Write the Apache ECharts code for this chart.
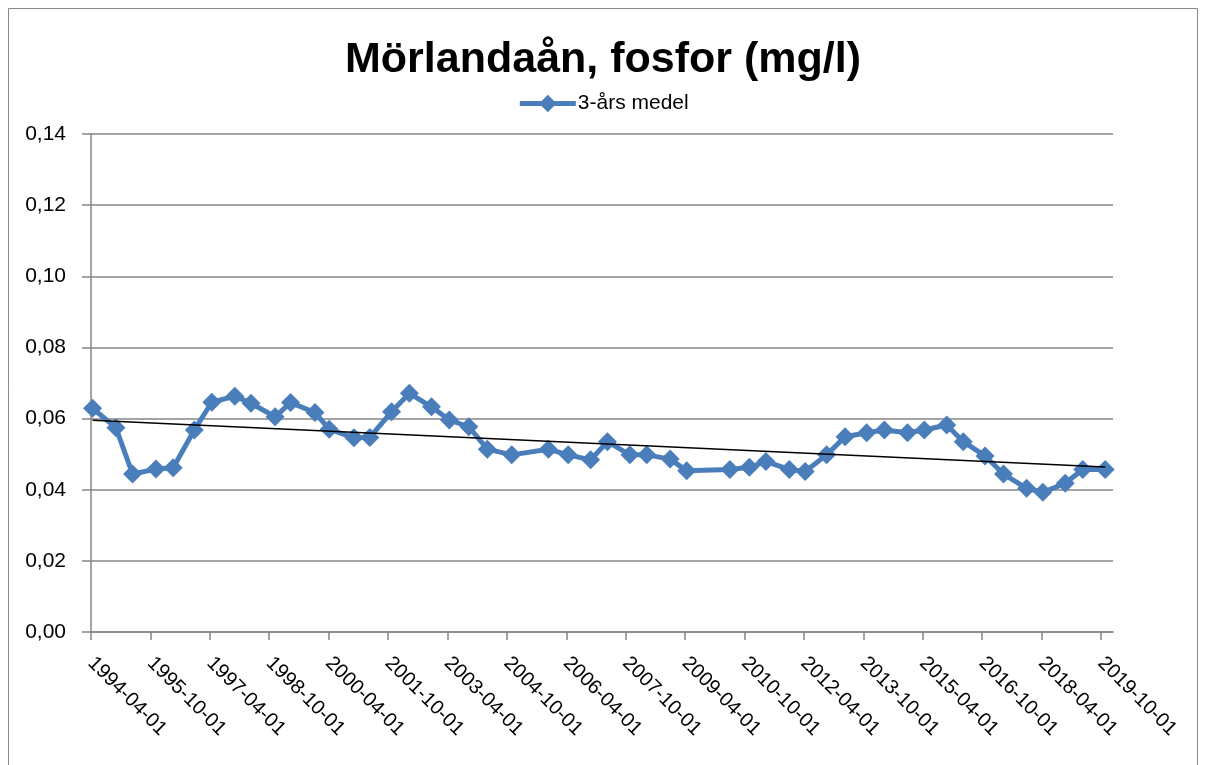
<!DOCTYPE html>
<html>
<head>
<meta charset="utf-8">
<script src="https://cdn.jsdelivr.net/npm/echarts@6/dist/echarts.min.js"></script>
<style>
  html, body { margin: 0; padding: 0; background: #fff; }
  #chart { width: 1206px; height: 765px; }
</style>
</head>
<body>
<div id="chart"></div>
<script>
// mätdatum (3-års medel)
const dates = [
  '1994-04-15', '1994-11-18', '1995-04-19', '1995-11-21', '1996-04-28', '1996-11-10',
  '1997-04-19', '1997-11-18', '1998-04-15', '1998-11-24', '1999-04-15', '1999-11-27',
  '2000-04-06', '2000-11-21', '2001-04-15', '2001-11-03', '2002-04-15', '2002-11-06',
  '2003-04-18', '2003-10-15', '2004-04-03', '2004-11-15', '2005-10-18', '2006-04-18',
  '2006-11-12', '2007-04-15', '2007-11-09', '2008-04-12', '2008-11-15', '2009-04-15',
  '2010-05-18', '2010-11-15', '2011-04-15', '2011-11-18', '2012-04-12', '2012-10-27',
  '2013-04-15', '2013-11-01', '2014-04-12', '2014-11-12', '2015-04-15', '2015-11-09',
  '2016-04-09', '2016-10-27', '2017-04-15', '2017-11-15', '2018-04-12', '2018-11-06',
  '2019-04-15', '2019-11-09'
]
const values = [
  0.0629, 0.0574, 0.0444, 0.0458, 0.0462, 0.0568,
  0.0646, 0.0663, 0.0643, 0.0605, 0.0645, 0.0617,
  0.0570, 0.0546, 0.0547, 0.0619, 0.0671, 0.0633,
  0.0596, 0.0577, 0.0514, 0.0498, 0.0514, 0.0498,
  0.0484, 0.0535, 0.0498, 0.0498, 0.0486, 0.0453,
  0.0457, 0.0463, 0.0479, 0.0457, 0.0451, 0.0498,
  0.0549, 0.0560, 0.0568, 0.0560, 0.0568, 0.0582,
  0.0535, 0.0495, 0.0444, 0.0404, 0.0393, 0.0418,
  0.0457, 0.0457
]
// axelns datumetiketter (var 18:e månad)
const tickLabels = [
  '1994-04-01', '1995-10-01', '1997-04-01', '1998-10-01', '2000-04-01', '2001-10-01',
  '2003-04-01', '2004-10-01', '2006-04-01', '2007-10-01', '2009-04-01', '2010-10-01',
  '2012-04-01', '2013-10-01', '2015-04-01', '2016-10-01', '2018-04-01', '2019-10-01'
]
const xMaxDate = '2020-01-20'

// datum -> månader sedan 1994-04-01
const toMonths = (s) => {
  const [y, m, d] = s.split('-').map(Number)
  return (y - 1994) * 12 + (m - 4) + (d - 1) / 30
}

const xs = dates.map(toMonths)
const tickValues = tickLabels.map(toMonths)

// linjär trendlinje (minsta kvadrat)
const n = xs.length
const mx = xs.reduce((a, b) => a + b, 0) / n
const my = values.reduce((a, b) => a + b, 0) / n
let sxy = 0, sxx = 0
for (let i = 0; i < n; i++) {
  sxy += (xs[i] - mx) * (values[i] - my)
  sxx += (xs[i] - mx) * (xs[i] - mx)
}
const slope = sxy / sxx
const icpt = my - slope * mx
const trend = [xs[0], xs[n - 1]].map(x => [x, icpt + slope * x])

const chart = echarts.init(document.getElementById('chart'))
const font = '"Liberation Sans", Arial, sans-serif'
const axisGray = '#868686'
const blue = '#4A7EBB'

chart.setOption({
  animation: false,
  backgroundColor: '#fff',
  textStyle: { fontFamily: font },
  graphic: [{
    type: 'rect',
    shape: { x: 8.5, y: 8.5, width: 1189, height: 800 },
    style: { fill: 'none', stroke: '#888', lineWidth: 1 },
    silent: true
  }],
  title: {
    text: 'Mörlandaån, fosfor (mg/l)',
    left: 'center',
    top: 34,
    textStyle: { fontFamily: font, fontSize: 43, fontWeight: 'bold', color: '#000' }
  },
  legend: {
    data: ['3-års medel'],
    top: 88,
    left: 'center',
    itemWidth: 56,
    itemHeight: 22,
    itemGap: 4,
    lineStyle: { width: 5 },
    textStyle: { fontFamily: font, fontSize: 21, color: '#000', padding: [0, 0, 0, -3] }
  },
  grid: { left: 91, right: 93, top: 134, bottom: 133 },
  xAxis: {
    type: 'value',
    min: 0,
    max: toMonths(xMaxDate),
    axisLine: { lineStyle: { color: axisGray, width: 1.5 } },
    axisTick: { customValues: tickValues, length: 8, lineStyle: { color: axisGray, width: 1.5 } },
    axisLabel: {
      customValues: tickValues,
      rotate: -45,
      margin: 28,
      fontSize: 20,
      color: '#000',
      fontFamily: font,
      formatter: (v) => {
        const i = tickValues.findIndex(t => Math.abs(t - v) < 0.01)
        return i >= 0 ? tickLabels[i] : ''
      }
    },
    splitLine: { show: false }
  },
  yAxis: {
    type: 'value',
    min: 0,
    max: 0.14,
    interval: 0.02,
    axisLine: { show: true, lineStyle: { color: axisGray, width: 1.5 } },
    axisTick: { show: true, length: 9, lineStyle: { color: axisGray, width: 1.5 } },
    axisLabel: {
      fontSize: 21,
      color: '#000',
      margin: 25,
      fontFamily: font,
      formatter: (v) => v.toFixed(2).replace('.', ',')
    },
    splitLine: { lineStyle: { color: axisGray, width: 1.5 } }
  },
  series: [
    {
      name: '3-års medel',
      type: 'line',
      data: xs.map((x, i) => [x, values[i]]),
      symbol: 'diamond',
      symbolSize: 19,
      itemStyle: { color: blue },
      lineStyle: { color: blue, width: 5 },
      z: 2
    },
    {
      name: 'trend',
      type: 'line',
      data: trend,
      symbol: 'none',
      lineStyle: { color: '#000', width: 1.5 },
      z: 3
    }
  ]
})
</script>
</body>
</html>
